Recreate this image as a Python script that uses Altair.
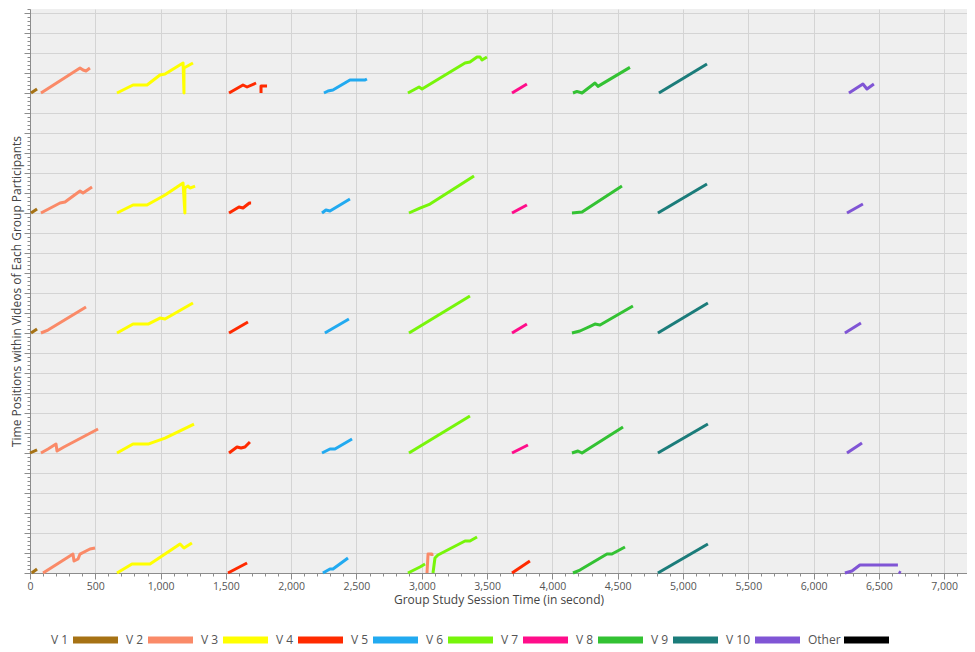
import altair as alt
import pandas as pd

# ---------------- data ----------------
VIDEOS = ["V 1", "V 2", "V 3", "V 4", "V 5", "V 6", "V 7", "V 8", "V 9", "V 10", "Other"]
COLORS = ["#a67214", "#fa8a68", "#ffff00", "#ff2a00", "#22aaf0", "#77f50a",
          "#ff0d8a", "#33c233", "#1b7c7a", "#8055d5", "#000000"]

# vertical offset of each participant's band (participant 1 on top)
ROW_OFFSETS = [6000, 4500, 3000, 1500, 0]

# (video, session times, positions within video)
P1 = [
    ("V 1", [8, 54], [0, 50]),
    ("V 2", [84, 383, 406, 429, 459], [0, 312, 287, 275, 312]),
    ("V 3", [666, 789, 896, 995, 1034, 1172, 1179, 1179, 1248], [0, 100, 100, 225, 237, 375, 0, 312, 375]),
    ("V 4", [1524, 1631, 1662, 1731], [0, 100, 75, 125]),
    ("V 4", [1769, 1769, 1815], [0, 87, 87]),
    ("V 5", [2251, 2282, 2320, 2450, 2565, 2580], [0, 25, 37, 162, 162, 175]),
    ("V 6", [2894, 2979, 3002, 3331, 3369, 3423, 3446, 3461, 3499], [0, 75, 50, 375, 387, 450, 450, 412, 450]),
    ("V 7", [3691, 3805], [0, 112]),
    ("V 8", [4158, 4188, 4227, 4326, 4349, 4594], [0, 20, 0, 125, 83, 320]),
    ("V 9", [4816, 5184], [0, 362]),
    ("V 10", [6271, 6378, 6409, 6462], [0, 112, 50, 112]),
]
P2 = [
    ("V 1", [8, 54], [0, 50]),
    ("V 2", [84, 230, 268, 383, 406, 429, 475], [0, 125, 137, 275, 250, 275, 325]),
    ("V 3", [666, 789, 896, 1034, 1172, 1186, 1186, 1210, 1225, 1264], [0, 100, 100, 225, 375, 0, 312, 337, 312, 337]),
    ("V 4", [1524, 1600, 1631, 1680, 1693], [0, 75, 62, 125, 125]),
    ("V 5", [2236, 2266, 2297, 2450], [0, 37, 25, 175]),
    ("V 6", [2902, 2986, 3063, 3400], [0, 62, 112, 462]),
    ("V 7", [3691, 3805], [0, 100]),
    ("V 8", [4150, 4227, 4533], [0, 12, 337]),
    ("V 9", [4808, 5184], [0, 362]),
    ("V 10", [6256, 6378], [0, 112]),
]
P3 = [
    ("V 1", [8, 54], [0, 50]),
    ("V 2", [84, 138, 429], [0, 37, 325]),
    ("V 3", [666, 789, 904, 995, 1034, 1248], [0, 112, 112, 187, 175, 375]),
    ("V 4", [1524, 1669], [0, 137]),
    ("V 5", [2258, 2442], [0, 175]),
    ("V 6", [2902, 3369], [0, 462]),
    ("V 7", [3691, 3805], [0, 112]),
    ("V 8", [4150, 4211, 4326, 4365, 4617], [0, 25, 112, 100, 337]),
    ("V 9", [4808, 5191], [0, 375]),
    ("V 10", [6240, 6363], [0, 125]),
]
P4 = [
    ("V 1", [0, 54], [0, 40]),
    ("V 2", [84, 138, 199, 207, 260, 521], [0, 50, 112, 25, 75, 300]),
    ("V 3", [666, 789, 904, 1034, 1256], [0, 112, 112, 187, 362]),
    ("V 4", [1524, 1585, 1616, 1646, 1684], [0, 75, 62, 75, 137]),
    ("V 5", [2236, 2297, 2335, 2466], [0, 50, 50, 175]),
    ("V 6", [2902, 3369], [0, 462]),
    ("V 7", [3691, 3813], [0, 100]),
    ("V 8", [4150, 4196, 4227, 4541], [0, 25, 0, 325]),
    ("V 9", [4808, 5191], [0, 362]),
    ("V 10", [6256, 6371], [0, 125]),
]
P5 = [
    ("V 1", [13, 54], [0, 50]),
    ("V 2", [100, 329, 337, 368, 383, 459, 498], [0, 237, 150, 175, 237, 300, 312]),
    ("V 3", [666, 781, 919, 1149, 1179, 1240], [0, 112, 112, 362, 312, 375]),
    ("V 4", [1516, 1662], [0, 125]),
    ("V 5", [2243, 2297, 2320, 2435], [0, 50, 50, 187]),
    ("V 6", [2894, 2986, 3025], [0, 75, 112]),
    ("V 2", [3040, 3048, 3078, 3078], [0, 237, 237, 212]),
    ("V 6", [3086, 3101, 3124, 3331, 3369, 3423], [0, 187, 225, 400, 400, 450]),
    ("V 4", [3691, 3828], [0, 150]),
    ("V 8", [4158, 4211, 4418, 4456, 4556], [0, 37, 237, 237, 325]),
    ("V 9", [4808, 5191], [0, 362]),
    ("V 10", [6240, 6294, 6355, 6646], [0, 25, 100, 100]),
    ("V 10", [6652, 6668], [15, 0]),
]
PARTICIPANTS = [P1, P2, P3, P4, P5]

# ---------------- layout ----------------
X_MAX = 7175
Y_MAX = 7050
W = 937
H = 564
LEG_Y = 631
FONT = "Open Sans"

records = []
seg_id = 0
for offset, segs in zip(ROW_OFFSETS, PARTICIPANTS):
    for video, ts, ps in segs:
        for k, (t, p) in enumerate(zip(ts, ps)):
            records.append({"seg": seg_id, "ord": k, "video": video, "t": t, "v": p + offset})
        seg_id += 1
df = pd.DataFrame(records)

# legend: label, then swatch (flow layout based on label length)
leg = []
cursor = 21
for name in VIDEOS:
    lw = 7 * len(name) - 4
    leg.append({"video": name, "lx": cursor, "sx": cursor + lw + 5, "sx2": cursor + lw + 50})
    cursor += lw + 58
leg_df = pd.DataFrame(leg)

color_scale = alt.Scale(domain=VIDEOS, range=COLORS)

x_axis = alt.Axis(
    values=list(range(0, 7101, 100)),
    labelExpr="datum.value % 500 === 0 ? format(datum.value, ',') : ''",
    tickSize={"condition": {"test": "datum.value % 500 === 0", "value": 6}, "value": 3},
    gridOpacity={"condition": {"test": "datum.value % 500 === 0", "value": 1}, "value": 0},
    labelOverlap=False, labelFlush=False,
    gridColor="#d4d4d4", domainColor="#8c8c8c", tickColor="#8c8c8c",
    labelColor="#555555", labelFontSize=10.5, labelFont=FONT, labelPadding=2,
    title="Group Study Session Time (in second)", titleFont=FONT, titleFontSize=12,
    titleFontWeight="normal", titleColor="#444444", titlePadding=3,
)
y_axis = alt.Axis(
    values=list(range(0, Y_MAX + 1, 50)),
    labels=False,
    tickSize={"condition": {"test": "datum.value % 250 === 0", "value": 6}, "value": 3},
    gridOpacity={"condition": {"test": "datum.value % 250 === 0", "value": 1}, "value": 0},
    gridColor="#d4d4d4", domainColor="#8c8c8c", tickColor="#8c8c8c",
    title="Time Positions within Videos of Each Group Participants", titleFont=FONT,
    titleFontSize=12, titleFontWeight="normal", titleColor="#444444", titlePadding=0,
)

lines = alt.Chart(df).mark_line(strokeWidth=3, strokeJoin="round").encode(
    x=alt.X("t:Q", scale=alt.Scale(domain=[0, X_MAX], nice=False, zero=False), axis=x_axis),
    y=alt.Y("v:Q", scale=alt.Scale(domain=[0, Y_MAX], nice=False), axis=y_axis),
    color=alt.Color("video:N", scale=color_scale, legend=None),
    detail="seg:N",
    order="ord:Q",
)

px_scale = alt.Scale(domain=[0, W], nice=False, zero=False)
leg_rect = alt.Chart(leg_df).mark_rect().encode(
    x=alt.X("sx:Q", scale=px_scale, axis=None),
    x2="sx2:Q",
    y=alt.value(LEG_Y - 3.5),
    y2=alt.value(LEG_Y + 3.5),
    color=alt.Color("video:N", scale=color_scale, legend=None),
)
leg_text = alt.Chart(leg_df).mark_text(
    align="left", baseline="middle", font=FONT, fontSize=12, color="#555555"
).encode(
    x=alt.X("lx:Q", scale=px_scale, axis=None),
    y=alt.value(LEG_Y),
    text="video:N",
)

chart = alt.layer(lines, leg_rect, leg_text).resolve_scale(x="independent").properties(
    width=W, height=H, padding={"left": 2, "top": 0, "right": 0, "bottom": 1}
).configure_view(fill="#efefef", stroke=None)

chart.save("out.html", embed_options={"renderer": "svg", "actions": False})
